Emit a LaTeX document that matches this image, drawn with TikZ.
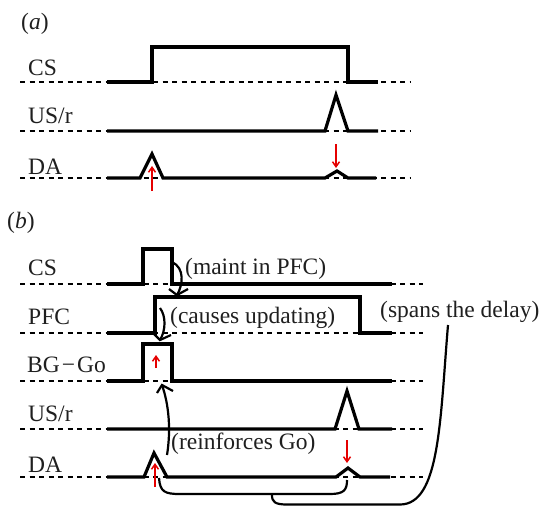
\documentclass[tikz,border=0pt]{standalone}
\usepackage{fontspec}
\setmainfont{Liberation Serif}
\usetikzlibrary{arrows.meta}
\begin{document}
\begin{tikzpicture}[x=1pt,y=-1pt,
  base/.style={line width=2.4pt,dash pattern=on 5pt off 4.5pt},
  sig/.style={line width=3.2pt,line join=miter},
  lbl/.style={anchor=base west,inner sep=0pt,font=\fontsize{23.5}{28}\selectfont,text=black!88},
  redarr/.style={red!90!black,line width=1.5pt,-{Straight Barb[length=5pt,width=7pt,line width=1.5pt]}},
  conn/.style={line width=2.2pt},
  head/.style={line width=2.2pt,line join=miter}]
\useasboundingbox (0,0) rectangle (543,506);
% ---------- panel (a)
\node[lbl] (la) at (21,29) {(\textit{a})};
\node[lbl] (aCS) at (28,75) {CS};
\node[lbl] (aUS) at (28,123) {US/r};
\node[lbl] (aDA) at (28,174) {DA};
\draw[base] (20,82) -- (410,82);
\draw[sig] (107,82) -- (152,82) -- (152,47) -- (348,47) -- (348,82) -- (378,82);
\draw[base] (20,131) -- (410,131);
\draw[sig] (107,131) -- (325,131) -- (336,95) -- (348,131) -- (378,131);
\draw[base] (20,178) -- (410,178);
\draw[sig] (107,178) -- (140,178) -- (152,154) -- (163,178) -- (325,178) -- (337,171) -- (348,178) -- (376,178);
\coordinate (ra1s) at (152,191); \coordinate (ra1e) at (152,166);
\coordinate (ra2s) at (336,144); \coordinate (ra2e) at (336,168);
\draw[redarr] (ra1s) -- (ra1e);
\draw[redarr] (ra2s) -- (ra2e);
% ---------- panel (b)
\node[lbl] (lb) at (7,228) {(\textit{b})};
\node[lbl] (bCS) at (28,275) {CS};
\node[lbl] (bPFC) at (28,324) {PFC};
\node[lbl] (bBG) at (27,372) {BG\kern2pt−\kern2pt Go};
\node[lbl] (bUS) at (28,421) {US/r};
\node[lbl] (bDA) at (28,472) {DA};
\draw[base] (20,284) -- (423,284);
\draw[sig] (107,284) -- (143,284) -- (143,249) -- (172,249) -- (172,284) -- (392,284);
\draw[base] (20,333) -- (423,333);
\draw[sig] (107,333) -- (155,333) -- (155,297) -- (360,297) -- (360,333) -- (392,333);
\draw[base] (20,381) -- (423,381);
\draw[sig] (107,381) -- (143,381) -- (143,344) -- (172,344) -- (172,381) -- (392,381);
\draw[base] (20,429) -- (423,429);
\draw[sig] (107,429) -- (335,429) -- (347,391) -- (359,429) -- (392,429);
\draw[base] (20,477) -- (423,477);
\draw[sig] (107,477) -- (144,477) -- (154,453) -- (167,477) -- (336,477) -- (348,468) -- (360,477) -- (390,477);
\coordinate (rb1s) at (156,368); \coordinate (rb1e) at (156,355);
\coordinate (rb2s) at (155,487); \coordinate (rb2e) at (155,463);
\coordinate (rb3s) at (347,440); \coordinate (rb3e) at (347,463);
\draw[redarr] (rb1s) -- (rb1e);
\draw[redarr] (rb2s) -- (rb2e);
\draw[redarr] (rb3s) -- (rb3e);
% annotations
\node[lbl] (maint) at (185,274) {(maint in PFC)};
\node[lbl] (caus) at (170,323) {(causes updating)};
\node[lbl] (reinf) at (171,449) {(reinforces Go)};
\node[lbl] (spans) at (380,317) {(spans the delay)};
\coordinate (m1) at (172,262); \coordinate (m2) at (177,295);
\draw[conn] (m1) .. controls (185,268) and (183,285) .. (m2);
\draw[head] (169,289) -- (m2) -- (188,289);
\coordinate (c1) at (160,308); \coordinate (c2) at (160,340);
\draw[conn] (c1) .. controls (166,316) and (166,330) .. (c2);
\draw[head] (154,334) -- (c2) -- (171,335);
\coordinate (g1) at (167,455); \coordinate (g2) at (162,385);
\draw[conn] (g1) .. controls (171,430) and (169,405) .. (g2);
\draw[head] (157,393) -- (g2) -- (173,391);
\coordinate (bl) at (159,478); \coordinate (br) at (347,480);
\coordinate (bm) at (272,495); \coordinate (bt) at (448,325);
\draw[conn] (bl) .. controls (160,492) and (165,494) .. (180,494) -- (330,494) .. controls (344,494) and (347,490) .. (br);
\draw[conn] (bm) .. controls (272,502) and (275,504.5) .. (287,504.5) -- (400,504.5) .. controls (440,504.5) and (440,420) .. (bt);
\end{tikzpicture}
\end{document}
